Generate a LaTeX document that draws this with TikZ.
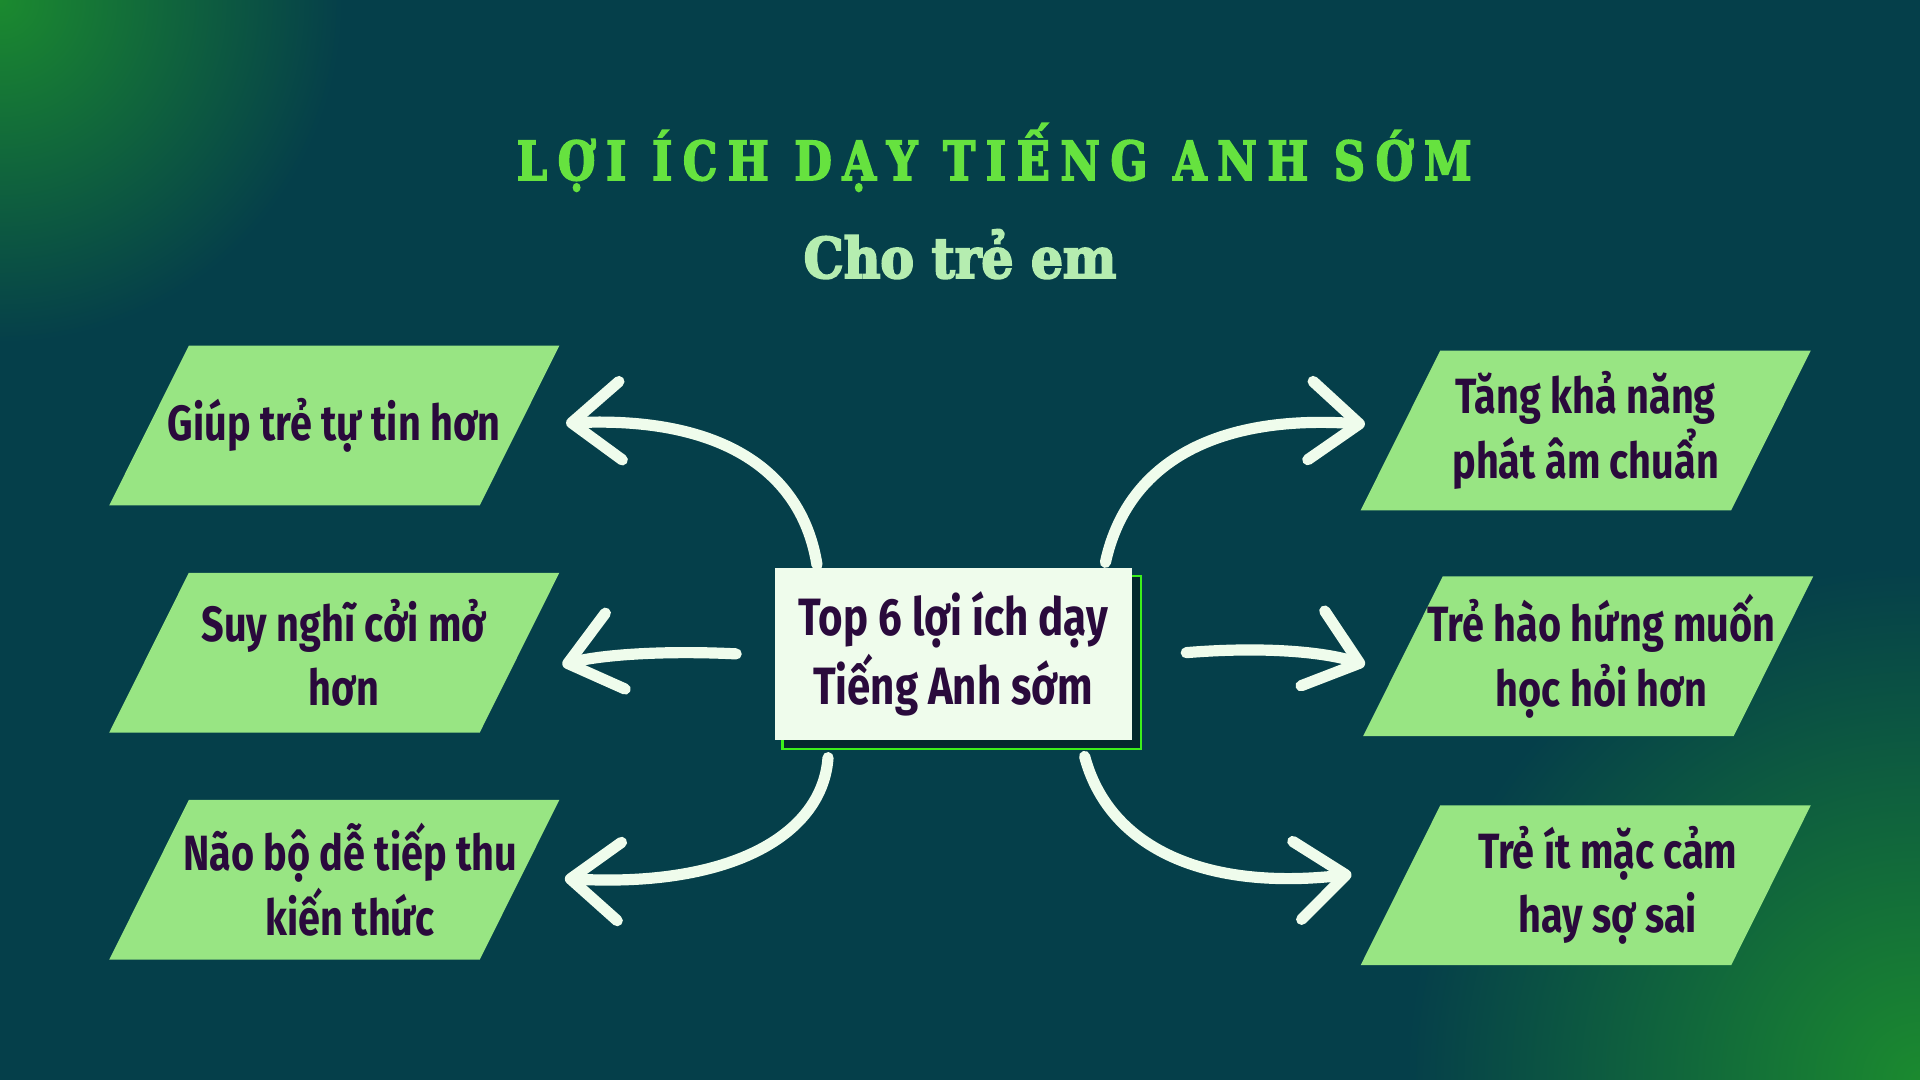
\documentclass[tikz,border=0pt]{standalone}
\usepackage{fontspec}
\usetikzlibrary{arrows.meta,backgrounds}
\newfontfamily\titlefont{DejaVu Serif Bold}[FakeStretch=0.8, FakeBold=3, LetterSpace=20]
\newfontfamily\subfont{DejaVu Serif Bold}[FakeStretch=0.9, FakeBold=3.5]
\newfontfamily\leaffont{Fira Sans Bold}[FakeStretch=0.8]
\definecolor{bgteal}{HTML}{053F4A}
\definecolor{glow}{HTML}{1B8A2F}
\definecolor{titlegreen}{HTML}{66E23F}
\definecolor{subgreen}{HTML}{B5EDB0}
\definecolor{leafgreen}{HTML}{98E583}
\definecolor{inkpurple}{HTML}{2A0A3C}
\definecolor{chalk}{HTML}{EFFCEC}
\definecolor{boxshade}{HTML}{04292E}
\definecolor{boxline}{HTML}{3CF01B}
\tikzset{
  leaf/.style={rectangle, minimum width=3.01cm, minimum height=1.29cm,
    inner sep=0pt, text=inkpurple, align=center,
    font=\leaffont\fontsize{11.5}{15}\selectfont},
  hubbox/.style={rectangle, fill=chalk, minimum width=2.91cm, minimum height=1.40cm,
    inner sep=0pt, text=inkpurple, align=center,
    font=\leaffont\fontsize{12.2}{16}\selectfont},
  chalkarrow/.style={draw=chalk, line width=2.6pt, line cap=round,
    -{Straight Barb[length=4mm,width=6.4mm,round]}}
}
\begin{document}
\begin{tikzpicture}[x=0.01cm,y=-0.01cm]
  \useasboundingbox (0,0) rectangle (1568,882);
  \begin{scope}[on background layer]
    \fill[bgteal] (0,0) rectangle (1568,882);
    \clip (0,0) rectangle (1568,882);
    \shade[inner color=glow, outer color=bgteal] (0,0) circle (280);
    \shade[inner color=glow, outer color=bgteal] (1568,882) circle (420);
  \end{scope}
  % titles
  \node[anchor=base, text=titlegreen, font=\titlefont\fontsize{12.5}{15}\selectfont]
    (title) at (812,147) {LỢI ÍCH DẠY TIẾNG ANH SỚM};
  \node[anchor=base, text=subgreen, font=\subfont\fontsize{13}{15}\selectfont]
    (subtitle) at (784,227) {Cho trẻ em};
  % hub
  \node[hubbox] (ctr) at (778.5,534) {Top 6 lợi ích dạy\\Tiếng Anh sớm};
  % benefits
  \node[leaf] (l1) at (273,347.5) {Giúp trẻ tự tin hơn};
  \node[leaf] (l2) at (281,533) {Suy nghĩ cởi mở\\hơn};
  \node[leaf] (l3) at (286,718.5) {Não bộ dễ tiếp thu\\kiến thức};
  \node[leaf] (r1) at (1295,351.5) {Tăng khả năng\\phát âm chuẩn};
  \node[leaf] (r2) at (1308,536) {Trẻ hào hứng muốn\\học hỏi hơn};
  \node[leaf] (r3) at (1313,723) {Trẻ ít mặc cảm\\hay sợ sai};
  \begin{scope}[on background layer]
    \draw[boxline, fill=boxshade, line width=0.6pt]
      ([shift={(7,7)}]ctr.north west) rectangle ([shift={(7,7)}]ctr.south east);
    % parallelogram behind each text, \d = text offset from shape centre
    \foreach \n/\d in {l1/0,l2/8,l3/13,r1/0,r2/11,r3/18}
      \fill[leafgreen] ([shift={(-32.5-\d,0)}]\n.south west) -- ([shift={(-32.5-\d,0)}]\n.south east)
        -- ([shift={(32.5-\d,0)}]\n.north east) -- ([shift={(32.5-\d,0)}]\n.north west) -- cycle;
  \end{scope}
  % arrows
  \draw[chalkarrow] ([shift={(35,-2)}]ctr.north west) .. controls (655,385) and (590,340) .. ([shift={(38,-2)}]l1.east);
  \draw[chalkarrow] ([shift={(-31,0)}]ctr.west) .. controls (540,531) and (490,535) .. ([shift={(27,10)}]l2.east);
  \draw[chalkarrow] ([shift={(44,14)}]ctr.south west) .. controls (672,680) and (600,725) .. ([shift={(24,-1)}]l3.east);
  \draw[chalkarrow] ([shift={(-22,-4)}]ctr.north east) .. controls (920,380) and (990,338) .. ([shift={(-29,-5)}]r1.west);
  \draw[chalkarrow] ([shift={(44,-1)}]ctr.east) .. controls (1030,528) and (1080,532) .. ([shift={(-42,7)}]r2.west);
  \draw[chalkarrow] ([shift={(-39,13)}]ctr.south east) .. controls (905,690) and (980,728) .. ([shift={(-58,-9)}]r3.west);
\end{tikzpicture}
\end{document}
